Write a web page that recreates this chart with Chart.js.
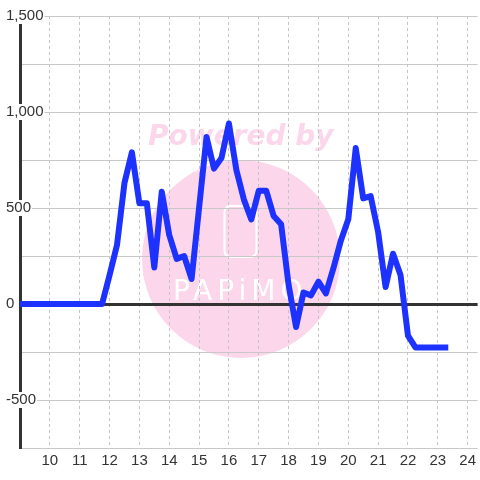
<!DOCTYPE html>
<html>
<head>
<meta charset="utf-8">
<script src="https://cdn.jsdelivr.net/npm/chart.js@4.4.0/dist/chart.umd.min.js"></script>
<style>
  body { margin: 0; background: #fff; }
  canvas { display: block; }
</style>
</head>
<body>
<canvas id="powerChart" width="480" height="480"></canvas>
<script>
// time of day (hours), one reading every 15 minutes
const hours = [
  9, 9.25, 9.5, 9.75, 10, 10.25, 10.5, 10.75, 11, 11.25, 11.5, 11.75,
  12, 12.25, 12.5, 12.75, 13, 13.25, 13.5, 13.75, 14, 14.25, 14.5, 14.75,
  15, 15.25, 15.5, 15.75, 16, 16.25, 16.5, 16.75, 17, 17.25, 17.5, 17.75,
  18, 18.25, 18.5, 18.75, 19, 19.25, 19.5, 19.75, 20, 20.25, 20.5, 20.75,
  21, 21.25, 21.5, 21.75, 22, 22.25, 22.5, 22.75, 23, 23.25
];
const power = [
  0, 0, 0, 0, 0, 0, 0, 0, 0, 0, 0, 0,
  150, 307, 630, 790, 525, 525, 190, 585, 360, 235, 250, 130,
  500, 870, 705, 760, 940, 698, 545, 440, 590, 590, 458, 415,
  100, -120, 60, 45, 116, 55, 185, 330, 441, 812, 550, 562,
  375, 88, 262, 151, -165, -226, -226, -226, -226, -226
];
const xTicks = [10, 11, 12, 13, 14, 15, 16, 17, 18, 19, 20, 21, 22, 23, 24];

// pink "Powered by PAPiMO" mark behind the chart
const watermark = {
  id: 'watermark',
  beforeDraw(chart) {
    const c = chart.ctx;
    c.save();
    c.fillStyle = '#fcd7ec';
    c.beginPath();
    c.arc(241, 259, 99, 0, Math.PI * 2);
    c.fill();
    c.font = 'bold oblique 28px "DejaVu Sans"';
    c.textBaseline = 'alphabetic';
    c.fillText('Powered by', 148, 145);
    c.strokeStyle = '#fff';
    c.lineWidth = 2;
    c.beginPath();
    c.roundRect(224.5, 206, 32, 51, 6);
    c.stroke();
    c.fillStyle = '#fff';
    c.font = '28px "DejaVu Sans"';
    c.letterSpacing = '5px';
    c.fillText('PAPiMO', 173, 300);
    c.restore();
  }
};

const ctx = document.getElementById('powerChart').getContext('2d');

new Chart(ctx, {
  type: 'line',
  data: {
    datasets: [{
      data: hours.map((h, i) => ({ x: h, y: power[i] })),
      borderColor: '#1e32ff',
      borderWidth: 6,
      borderCapStyle: 'square',
      borderJoinStyle: 'round',
      pointRadius: 0,
      tension: 0,
      fill: false
    }]
  },
  options: {
    responsive: false,
    animation: false,
    layout: { padding: { left: 5, top: 16, right: 0, bottom: 0 } },
    plugins: {
      legend: { display: false },
      tooltip: { enabled: false }
    },
    scales: {
      x: {
        type: 'linear',
        min: 9,
        max: 24.3333,
        afterBuildTicks: (scale) => {
          scale.ticks = xTicks.map(v => ({ value: v }));
        },
        afterFit: (scale) => { scale.height = 32; },
        border: { display: false, dash: [3, 3] },
        grid: {
          color: '#c4c4c4',
          lineWidth: 1,
          drawTicks: false
        },
        ticks: {
          padding: 4,
          color: '#333',
          font: { family: '"Liberation Sans", Arial', size: 15 },
          maxRotation: 0,
          callback: (v) => String(v)
        }
      },
      y: {
        min: -750,
        max: 1500,
        afterFit: (scale) => { scale.width = 15; },
        border: { display: true, color: '#333', width: 3 },
        grid: {
          color: (c) => c.tick && c.tick.value === 0 ? '#333' : '#c8c8c8',
          lineWidth: (c) => c.tick && c.tick.value === 0 ? 3 : 1,
          drawTicks: false
        },
        ticks: {
          stepSize: 250,
          mirror: true,
          padding: -14,
          color: '#333',
          font: { family: '"Liberation Sans", Arial', size: 15 },
          showLabelBackdrop: (c) => c.tick && c.tick.value % 500 === 0,
          backdropColor: '#fff',
          backdropPadding: { top: -1, bottom: -1, left: 1, right: 1 },
          callback: (v) => v % 500 === 0 ? v.toLocaleString('en-US') : ''
        }
      }
    }
  },
  plugins: [watermark]
});
</script>
</body>
</html>
